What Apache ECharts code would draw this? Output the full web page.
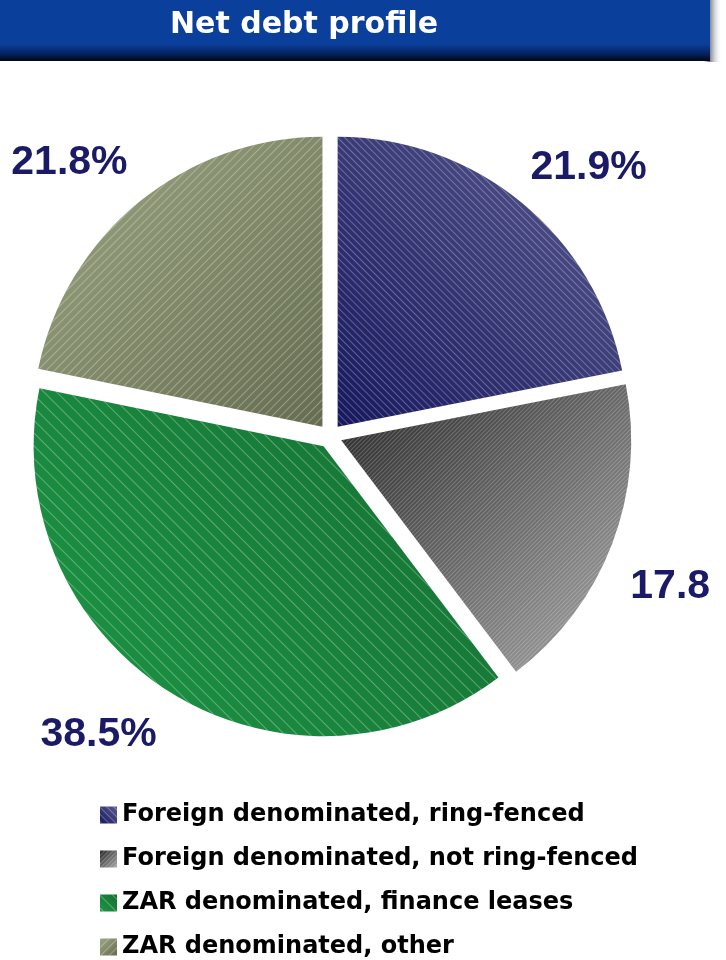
<!DOCTYPE html>
<html>
<head>
<meta charset="utf-8">
<script src="https://cdn.jsdelivr.net/npm/echarts@6/dist/echarts.min.js"></script>
<style>
html,body{margin:0;padding:0;background:#fff;}
#chart{width:726px;height:960px;}
</style>
</head>
<body>
<div id="chart"></div>
<script>
// DATA
var categories = [
  'Foreign denominated, ring-fenced',
  'Foreign denominated, not ring-fenced',
  'ZAR denominated, finance leases',
  'ZAR denominated, other'
];
var values = [21.9, 17.8, 38.5, 21.8];
var labelTexts = ['21.9%', '17.8', '38.5%', '21.8%'];
var titleText = 'Net debt profile';

// STYLES
function lg(x0, y0, x1, y1, c0, c1) {
  return new echarts.graphic.LinearGradient(x0, y0, x1, y1, [
    {offset: 0, color: c0}, {offset: 1, color: c1}
  ]);
}
var fills = [
  lg(0, 1, 1, 0, '#17175e', '#5a5a90'),
  lg(0, 0, 1, 1, '#262626', '#a8a8a8'),
  lg(1, 0, 0, 1, '#156e32', '#1c9645'),
  lg(0, 0, 1, 1, '#9da783', '#656c50')
];
var decals = [
  {rot: Math.PI / 4, gap: 4, col: 'rgba(255,255,255,0.28)'},
  {rot: -Math.PI / 4, gap: 2, col: 'rgba(255,255,255,0.22)'},
  {rot: Math.PI / 4, gap: 8, col: 'rgba(255,255,255,0.30)'},
  {rot: -Math.PI / 4, gap: 5, col: 'rgba(255,255,255,0.30)'}
];
// label anchor points (before the slice's selected offset is added)
var labelPos = [[581, 177], [659, 582], [105, 725], [77, 172]];

var seriesData = categories.map(function (c, i) {
  var d = decals[i];
  var st = {
    color: fills[i],
    decal: {
      symbol: 'rect', symbolSize: 1,
      dashArrayX: [1, 0], dashArrayY: [1, d.gap],
      rotation: d.rot, color: d.col
    }
  };
  return {
    name: c, value: values[i], selected: true,
    itemStyle: st,
    select: {itemStyle: st},
    label: {formatter: labelTexts[i]}
  };
});

var chart = echarts.init(document.getElementById('chart'), null, {renderer: 'canvas'});
chart.setOption({
  animation: false,
  backgroundColor: '#ffffff',
  aria: {enabled: false},
  graphic: [
    {
      type: 'rect', z: 0, left: 0, top: 0,
      shape: {x: 0, y: 0, width: 722, height: 62},
      style: {fill: new echarts.graphic.LinearGradient(0, 0, 1, 0, [
        {offset: 0, color: 'rgba(0,0,0,0)'}, {offset: 0.975, color: 'rgba(0,0,0,0)'},
        {offset: 0.982, color: 'rgba(10,20,40,0.6)'}, {offset: 1, color: 'rgba(255,255,255,0)'}
      ])}
    },
    {
      type: 'rect', z: 1, left: 0, top: 0,
      shape: {x: 0, y: 0, width: 710, height: 61},
      style: {fill: new echarts.graphic.LinearGradient(0, 0, 0, 1, [
        {offset: 0, color: '#0b3f9c'}, {offset: 0.72, color: '#0b3f9c'},
        {offset: 0.88, color: '#062260'}, {offset: 1, color: '#020814'}
      ])}
    }
  ],
  title: {
    text: titleText,
    left: 299, top: 5, textAlign: 'center',
    textStyle: {color: '#ffffff', fontSize: 30, fontWeight: 'bold', fontFamily: 'DejaVu Sans'},
    z: 5
  },
  legend: {
    orient: 'vertical',
    left: 100, top: 803,
    padding: 0,
    itemWidth: 17, itemHeight: 17,
    itemGap: 20,
    selectedMode: false,
    icon: 'rect',
    textStyle: {color: '#000', fontSize: 24, fontWeight: 'bold', fontFamily: 'DejaVu Sans', lineHeight: 24},
    data: categories
  },
  series: [{
    type: 'pie',
    center: [330, 436],
    radius: [0, 290],
    startAngle: 90,
    clockwise: true,
    selectedMode: 'multiple',
    selectedOffset: 12,
    avoidLabelOverlap: false,
    emphasis: {disabled: true},
    label: {
      show: true, position: 'outside',
      color: '#1a1a66', fontSize: 41, fontWeight: 'bold', fontFamily: 'Liberation Sans'
    },
    labelLine: {show: false},
    labelLayout: function (p) {
      var pos = labelPos[p.dataIndex];
      var r = p.labelRect;
      return {dx: pos[0] - (r.x + r.width / 2), dy: pos[1] - (r.y + r.height / 2)};
    },
    data: seriesData
  }]
});
</script>
</body>
</html>
